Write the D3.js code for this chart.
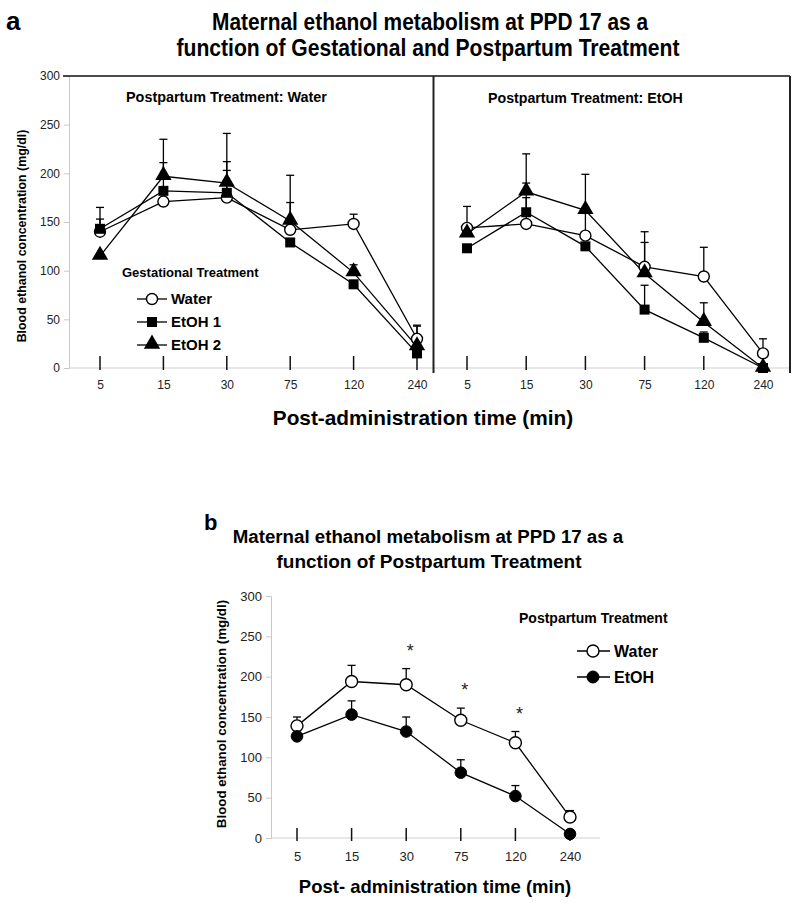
<!DOCTYPE html>
<html>
<head>
<meta charset="utf-8">
<script src="https://cdn.jsdelivr.net/npm/d3@7"></script>
<style>
  html, body { margin: 0; padding: 0; background: #fff; }
  svg { display: block; font-family: "Liberation Sans", Arial, sans-serif; }
</style>
</head>
<body>
<svg id="chart" width="800" height="903"></svg>
<script>
// ---------- DATA ----------
const times = ["5", "15", "30", "75", "120", "240"];
const yTicks = [0, 50, 100, 150, 200, 250, 300];

// Panel a, Postpartum Treatment: Water
const aW_water = [140, 171, 175, 142, 148, 30];
const aW_waterErr = [13, null, 28, 28, 10, 14];
const aW_etoh1 = [143, 182, 180, 129, 86, 15];
const aW_etoh1Err = [22, 29, 32, null, null, null];
const aW_etoh2 = [115, 197, 190, 151, 98, 22];
const aW_etoh2Err = [null, 38, 51, 47, 8, 21];

// Panel a, Postpartum Treatment: EtOH
const aE_water = [144, 148, 136, 104, 94, 15];
const aE_waterErr = [22, 27, 23, 25, 30, 15];
const aE_etoh1 = [123, 160, 125, 60, 31, 0];
const aE_etoh1Err = [null, 30, null, 25, 6, null];
const aE_etoh2 = [138, 181, 162, 97, 47, 0];
const aE_etoh2Err = [null, 39, 37, 43, 20, null];

// Panel b
const b_water = [139, 194, 190, 146, 118, 26];
const b_waterErr = [11, 20, 20, 15, 14, 8];
const b_etoh = [126, 153, 132, 81, 52, 5];
const b_etohErr = [null, 17, 18, 16, 13, null];
const b_signif = ["30", "75", "120"];

const gestLabels = ["Water", "EtOH 1", "EtOH 2"];
const ppLabels = ["Water", "EtOH"];

// ---------- DRAW ----------
const svg = d3.select("#chart");
const BOLD = "bold";

function addText(x, y, txt, opts = {}) {
  const t = svg.append("text")
    .attr("x", x).attr("y", y)
    .attr("font-size", opts.size || 12)
    .attr("font-weight", opts.weight || "normal")
    .attr("text-anchor", opts.anchor || "start")
    .attr("fill", opts.fill || "#000")
    .text(txt);
  if (opts.family) t.attr("font-family", opts.family);
  if (opts.rotate) t.attr("transform", `rotate(${opts.rotate},${x},${y})`);
  if (opts.len) t.attr("textLength", opts.len).attr("lengthAdjust", "spacingAndGlyphs");
  return t;
}

function marker(g, shape, x, y, size) {
  if (shape === "circle") {
    g.append("circle").attr("cx", x).attr("cy", y).attr("r", size)
      .attr("fill", "#fff").attr("stroke", "#000").attr("stroke-width", 1.4);
  } else if (shape === "dot") {
    g.append("circle").attr("cx", x).attr("cy", y).attr("r", size)
      .attr("fill", "#000").attr("stroke", "#000").attr("stroke-width", 1);
  } else if (shape === "square") {
    g.append("rect").attr("x", x - size).attr("y", y - size)
      .attr("width", size * 2).attr("height", size * 2).attr("fill", "#000");
  } else if (shape === "triangle") {
    const sym = d3.symbol().type(d3.symbolTriangle).size(size * size * 3.2);
    g.append("path").attr("d", sym()).attr("transform", `translate(${x},${y - 1})`)
      .attr("fill", "#000");
  }
}

function drawSeries(layer, x, y, vals, errs, shape, size) {
  const pts = times.map((t, i) => ({ t, v: vals[i], e: errs[i] }));
  pts.forEach(p => {
    if (p.e == null) return;
    const cx = x(p.t);
    layer.err.append("line").attr("x1", cx).attr("x2", cx)
      .attr("y1", y(p.v)).attr("y2", y(p.v + p.e))
      .attr("stroke", "#000").attr("stroke-width", 1.3);
    layer.err.append("line").attr("x1", cx - 4).attr("x2", cx + 4)
      .attr("y1", y(p.v + p.e)).attr("y2", y(p.v + p.e))
      .attr("stroke", "#000").attr("stroke-width", 1.3);
  });
  const line = d3.line().x(d => x(d.t)).y(d => y(d.v));
  layer.lines.append("path").datum(pts).attr("d", line)
    .attr("fill", "none").attr("stroke", "#000").attr("stroke-width", 1.3);
  pts.forEach(p => marker(layer.marks, shape, x(p.t), y(p.v), size));
}

function makeLayer() {
  const g = svg.append("g");
  return { err: g.append("g"), lines: g.append("g"), marks: g.append("g") };
}

// ===== PANEL A =====
const yA = d3.scaleLinear().domain([0, 300]).range([368, 76]);
const xAL = d3.scalePoint().domain(times).range([100, 417]);
const xAR = d3.scalePoint().domain(times).range([467, 763]);

addText(6, 30, "a", { size: 26, weight: BOLD, family: "'Liberation Sans Narrow', 'Liberation Sans', Arial" });
addText(430, 30, "Maternal ethanol metabolism at  PPD 17 as a",
  { size: 23, weight: BOLD, anchor: "middle", len: 436, family: "'Liberation Sans Narrow', 'Liberation Sans', Arial" });
addText(428, 56, "function of Gestational and Postpartum Treatment",
  { size: 23, weight: BOLD, anchor: "middle", len: 503, family: "'Liberation Sans Narrow', 'Liberation Sans', Arial" });

const yAxisA = d3.axisLeft(yA).tickValues(yTicks).tickSize(5).tickPadding(4);
const gyA = svg.append("g").attr("transform", "translate(69,0)").call(yAxisA);
gyA.select(".domain").attr("stroke", "#c8c8c8");
gyA.selectAll(".tick line").attr("stroke", "#c8c8c8");
gyA.selectAll(".tick text").attr("font-size", 12).attr("fill", "#222").attr("font-family", "'Liberation Sans', Arial");

svg.append("line").attr("x1", 69).attr("x2", 790).attr("y1", yA(0)).attr("y2", yA(0))
  .attr("stroke", "#d0d0d0").attr("stroke-width", 1.2);
svg.append("line").attr("x1", 63).attr("x2", 790).attr("y1", yA(300)).attr("y2", yA(300))
  .attr("stroke", "#111").attr("stroke-width", 1.5);
svg.append("line").attr("x1", 433.5).attr("x2", 433.5).attr("y1", yA(300)).attr("y2", 373)
  .attr("stroke", "#222").attr("stroke-width", 2);
svg.append("line").attr("x1", 790).attr("x2", 790).attr("y1", yA(300)).attr("y2", 373)
  .attr("stroke", "#222").attr("stroke-width", 2);

[xAL, xAR].forEach(x => {
  const ax = d3.axisBottom(x).tickSize(0).tickPadding(0);
  const g = svg.append("g").attr("transform", "translate(0,389)").call(ax);
  g.select(".domain").remove();
  g.selectAll(".tick text").attr("dy", 0).attr("font-size", 12).attr("fill", "#222")
    .attr("font-family", "'Liberation Sans', Arial");
  times.forEach(t => {
    svg.append("line").attr("x1", x(t)).attr("x2", x(t)).attr("y1", 356).attr("y2", 370)
      .attr("stroke", "#111").attr("stroke-width", 1.5);
  });
});

addText(126, 102, "Postpartum Treatment: Water", { size: 14.4, weight: BOLD });
addText(488, 103, "Postpartum Treatment: EtOH", { size: 14.2, weight: BOLD });

const layerAL = makeLayer();
drawSeries(layerAL, xAL, yA, aW_water, aW_waterErr, "circle", 5.5);
drawSeries(layerAL, xAL, yA, aW_etoh1, aW_etoh1Err, "square", 5);
drawSeries(layerAL, xAL, yA, aW_etoh2, aW_etoh2Err, "triangle", 6);
const layerAR = makeLayer();
drawSeries(layerAR, xAR, yA, aE_water, aE_waterErr, "circle", 5.5);
drawSeries(layerAR, xAR, yA, aE_etoh1, aE_etoh1Err, "square", 5);
drawSeries(layerAR, xAR, yA, aE_etoh2, aE_etoh2Err, "triangle", 6);

addText(122, 277, "Gestational Treatment", { size: 13, weight: BOLD });
const legA = svg.append("g");
const legShapes = ["circle", "square", "triangle"];
const legSizes = [5.5, 5, 6];
const legY = [299, 322, 345];
gestLabels.forEach((lab, i) => {
  legA.append("line").attr("x1", 137).attr("x2", 167).attr("y1", legY[i]).attr("y2", legY[i])
    .attr("stroke", "#000").attr("stroke-width", 1.3);
  marker(legA, legShapes[i], 152, legY[i], legSizes[i]);
  addText(171, legY[i] + 5, lab, { size: 15, weight: BOLD });
});

addText(22, 236, "Blood ethanol concentration (mg/dl)", { size: 12.4, weight: BOLD, anchor: "middle", rotate: -90 }).attr("dy", "0.35em");
addText(423, 425, "Post-administration time (min)", { size: 20.8, weight: BOLD, anchor: "middle" });

// ===== PANEL B =====
const yB = d3.scaleLinear().domain([0, 300]).range([838, 596]);
const xB = d3.scalePoint().domain(times).range([297, 570]);

addText(204, 530, "b", { size: 22, weight: BOLD });
addText(428, 543, "Maternal ethanol metabolism at PPD 17 as a", { size: 18.7, weight: BOLD, anchor: "middle" });
addText(429, 568, "function of Postpartum Treatment", { size: 19, weight: BOLD, anchor: "middle" });

const yAxisB = d3.axisLeft(yB).tickValues(yTicks).tickSize(5).tickPadding(4);
const gyB = svg.append("g").attr("transform", "translate(271,0)").call(yAxisB);
gyB.select(".domain").attr("stroke", "#c8c8c8");
gyB.selectAll(".tick line").attr("stroke", "#c8c8c8");
gyB.selectAll(".tick text").attr("font-size", 13).attr("fill", "#222").attr("font-family", "'Liberation Sans', Arial");

svg.append("line").attr("x1", 271).attr("x2", 600).attr("y1", yB(0)).attr("y2", yB(0))
  .attr("stroke", "#d0d0d0").attr("stroke-width", 1.2);

const axB = d3.axisBottom(xB).tickSize(0).tickPadding(0);
const gxB = svg.append("g").attr("transform", "translate(0,861)").call(axB);
gxB.select(".domain").remove();
gxB.selectAll(".tick text").attr("dy", 0).attr("font-size", 13).attr("fill", "#222")
  .attr("font-family", "'Liberation Sans', Arial");
times.forEach(t => {
  svg.append("line").attr("x1", xB(t)).attr("x2", xB(t)).attr("y1", 828).attr("y2", 841)
    .attr("stroke", "#111").attr("stroke-width", 1.5);
});

const layerB = makeLayer();
drawSeries(layerB, xB, yB, b_water, b_waterErr, "circle", 6);
drawSeries(layerB, xB, yB, b_etoh, b_etohErr, "dot", 5.8);

b_signif.forEach(t => {
  const i = times.indexOf(t);
  const top = b_water[i] + b_waterErr[i];
  addText(xB(t) + 4, yB(top) - 12, "*", { size: 18, anchor: "middle", fill: "#222" });
});

addText(519, 623, "Postpartum Treatment", { size: 14, weight: BOLD });
const legB = svg.append("g");
const legBY = [651, 677];
ppLabels.forEach((lab, i) => {
  legB.append("line").attr("x1", 577).attr("x2", 610).attr("y1", legBY[i]).attr("y2", legBY[i])
    .attr("stroke", "#000").attr("stroke-width", 1.3);
  marker(legB, i === 0 ? "circle" : "dot", 593, legBY[i], 6);
  addText(614, legBY[i] + 5.5, lab, { size: 16, weight: BOLD });
});

addText(221, 714, "Blood ethanol concentration (mg/dl)", { size: 13.3, weight: BOLD, anchor: "middle", rotate: -90 }).attr("dy", "0.35em");
addText(435, 893, "Post- administration time (min)", { size: 18.5, weight: BOLD, anchor: "middle" });
</script>
</body>
</html>
